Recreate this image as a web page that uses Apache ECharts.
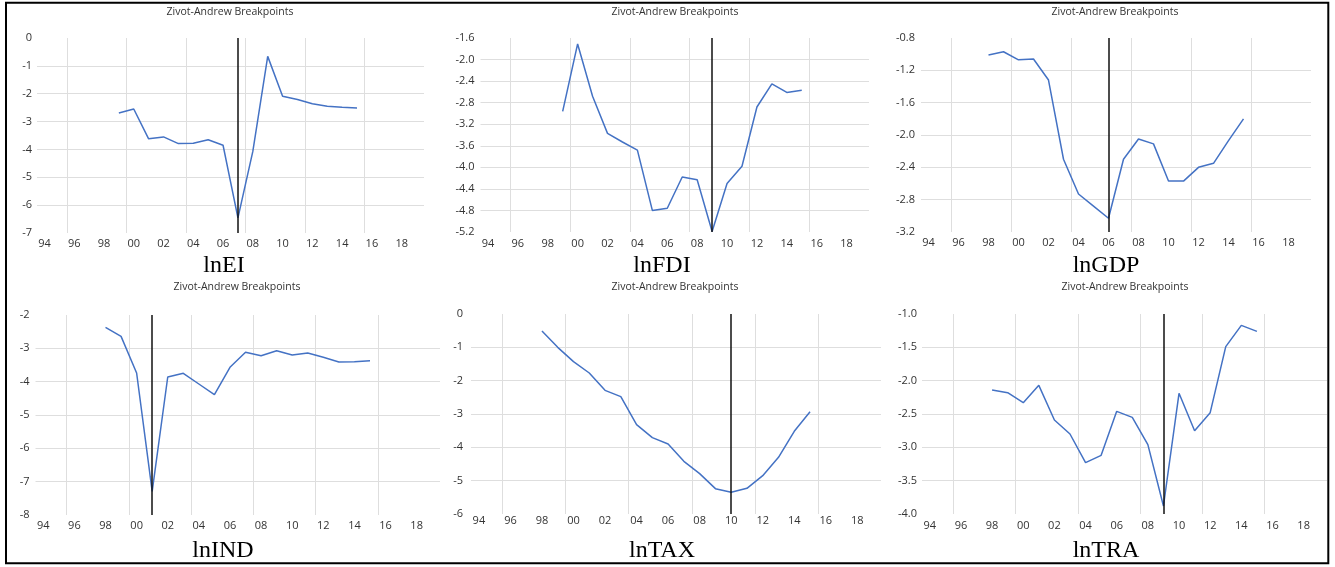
<!DOCTYPE html>
<html>
<head>
<meta charset="utf-8">
<script src="https://cdn.jsdelivr.net/npm/echarts@6/dist/echarts.min.js"></script>
<style>
  html, body { margin: 0; padding: 0; background: #fff; }
  #main { width: 1335px; height: 567px; }
</style>
</head>
<body>
<div id="main"></div>
<script>
// categories: one per year, labels every second year
const years = ['1994', '1995', '1996', '1997', '1998', '1999', '2000', '2001', '2002',
  '2003', '2004', '2005', '2006', '2007', '2008', '2009', '2010', '2011', '2012',
  '2013', '2014', '2015', '2016', '2017', '2018', '2019'];

// Zivot-Andrew statistics, each series starts at its own year
const eiStart = 1999;
const eiValues = [-2.69, -2.55, -3.62, -3.55, -3.79, -3.78, -3.65, -3.85, -6.46,
  -4.07, -0.66, -2.09, -2.21, -2.36, -2.45, -2.49, -2.51];
const eiBreak = '2007';

const fdiStart = 1999;
const fdiValues = [-2.96, -1.71, -2.68, -3.37, -3.53, -3.68, -4.80, -4.76, -4.18,
  -4.23, -5.19, -4.30, -3.98, -2.88, -2.45, -2.61, -2.57];
const fdiBreak = '2009';

const gdpStart = 1998;
const gdpValues = [-1.01, -0.97, -1.07, -1.06, -1.32, -2.30, -2.73, -2.88, -3.03,
  -2.30, -2.05, -2.11, -2.57, -2.57, -2.40, -2.35, -2.07, -1.80];
const gdpBreak = '2006';

const indStart = 1998;
const indValues = [-2.37, -2.64, -3.74, -7.29, -3.86, -3.75, -4.07, -4.39, -3.57,
  -3.12, -3.22, -3.07, -3.20, -3.14, -3.27, -3.41, -3.40, -3.37];
const indBreak = '2001';

const taxStart = 1998;
const taxValues = [-0.51, -1.00, -1.43, -1.77, -2.29, -2.48, -3.32, -3.71, -3.90,
  -4.42, -4.79, -5.24, -5.35, -5.23, -4.85, -4.30, -3.52, -2.93];
const taxBreak = '2010';

const traStart = 1998;
const traValues = [-2.14, -2.18, -2.33, -2.07, -2.59, -2.80, -3.23, -3.12, -2.46,
  -2.55, -2.96, -3.88, -2.19, -2.75, -2.48, -1.49, -1.17, -1.26];
const traBreak = '2009';

const panelNames = ['lnEI', 'lnFDI', 'lnGDP', 'lnIND', 'lnTAX', 'lnTRA'];
const chartTitle = 'Zivot-Andrew Breakpoints';

// y axis ranges: [max, min, step, decimals]
const yRanges = [
  [0, -7, 1, 0],
  [-1.6, -5.2, 0.4, 1],
  [-0.8, -3.2, 0.4, 1],
  [-2, -8, 1, 0],
  [0, -6, 1, 0],
  [-1.0, -4.0, 0.5, 1]
];

const panels = [
  { values: eiValues, start: eiStart, brk: eiBreak },
  { values: fdiValues, start: fdiStart, brk: fdiBreak },
  { values: gdpValues, start: gdpStart, brk: gdpBreak },
  { values: indValues, start: indStart, brk: indBreak },
  { values: taxValues, start: taxStart, brk: taxBreak },
  { values: traValues, start: traStart, brk: traBreak }
];

// layout of the six plot areas
const grids = [
  { left: 37, top: 38, width: 387, height: 195 },
  { left: 480.5, top: 38, width: 388.5, height: 194 },
  { left: 921, top: 38, width: 390, height: 194 },
  { left: 35.5, top: 315, width: 404.5, height: 200 },
  { left: 471, top: 314, width: 410, height: 200 },
  { left: 922, top: 314, width: 405, height: 200 }
];
const xLabelMargin = [5, 6, 5, 5, 1, 6];
const yLabelMargin = [5, 6, 6, 6, 8, 5];

const titlePos = [[230, 12], [675, 12], [1115, 12], [237, 287], [675, 287], [1125, 287]];
const namePos = [[224, 266], [662, 266], [1106, 266], [223, 551], [662, 551], [1106, 551]];

const labelFont = 'Open Sans';
const labelColor = '#333';
const gridColor = '#dedede';

// vertical gridlines every 4 years, at the left edge of 96, 00, 04 ...
function gridEvery4(idx) { return idx % 4 === 2; }

var xAxes = [], gridAxes = [], yAxes = [], series = [], graphics = [];

panels.forEach(function (p, i) {
  var r = yRanges[i];
  xAxes.push({
    type: 'category',
    gridIndex: i,
    data: years,
    boundaryGap: true,
    axisLine: { show: false },
    axisTick: { show: false },
    axisLabel: {
      interval: 1,
      margin: xLabelMargin[i],
      fontFamily: labelFont,
      fontSize: 11,
      color: labelColor,
      formatter: function (v) { return v.slice(2); }
    },
    splitLine: { show: false }
  });
  // second category axis, only there to place the 4-year gridlines
  gridAxes.push({
    type: 'category',
    gridIndex: i,
    position: 'bottom',
    data: years,
    boundaryGap: true,
    axisLine: { show: false },
    axisTick: { show: false, interval: gridEvery4 },
    axisLabel: {
      interval: gridEvery4,
      color: 'rgba(0,0,0,0)',
      fontSize: 11,
      formatter: function () { return ' '; }
    },
    splitLine: {
      show: true,
      interval: gridEvery4,
      showMinLine: true,
      showMaxLine: false,
      lineStyle: { color: gridColor, width: 1 }
    }
  });
  yAxes.push({
    type: 'value',
    gridIndex: i,
    min: r[1],
    max: r[0],
    interval: r[2],
    axisLine: { show: false },
    axisTick: { show: false },
    axisLabel: {
      margin: yLabelMargin[i],
      fontFamily: labelFont,
      fontSize: 11,
      color: labelColor,
      formatter: function (v) { return v.toFixed(r[3]); }
    },
    splitLine: {
      show: true,
      showMinLine: false,
      showMaxLine: false,
      lineStyle: { color: gridColor, width: 1 }
    }
  });
  series.push({
    type: 'line',
    xAxisIndex: i,
    yAxisIndex: i,
    data: p.values.map(function (v, k) { return [String(p.start + k), v]; }),
    showSymbol: false,
    lineStyle: { color: '#4472C4', width: 1.5 },
    itemStyle: { color: '#4472C4' },
    markLine: {
      silent: true,
      symbol: 'none',
      label: { show: false },
      lineStyle: { color: '#111', type: 'solid', width: 1.5 },
      data: [{ xAxis: p.brk }]
    }
  });
  graphics.push({
    type: 'text',
    x: titlePos[i][0],
    y: titlePos[i][1],
    style: {
      text: chartTitle,
      font: '10.5px "Open Sans"',
      fill: '#333',
      align: 'center',
      verticalAlign: 'middle'
    }
  });
  graphics.push({
    type: 'text',
    x: namePos[i][0],
    y: namePos[i][1],
    style: {
      text: panelNames[i],
      font: '24px "Liberation Serif"',
      fill: '#000',
      align: 'center',
      verticalAlign: 'middle'
    }
  });
});

// outer frame
graphics.push({
  type: 'rect',
  shape: { x: 6, y: 2.7, width: 1322.3, height: 560.6 },
  style: { fill: 'none', stroke: '#000', lineWidth: 2 }
});

var chart = echarts.init(document.getElementById('main'));
chart.setOption({
  animation: false,
  backgroundColor: '#fff',
  grid: grids,
  xAxis: xAxes.concat(gridAxes),
  yAxis: yAxes,
  series: series,
  graphic: graphics
});
</script>
</body>
</html>
